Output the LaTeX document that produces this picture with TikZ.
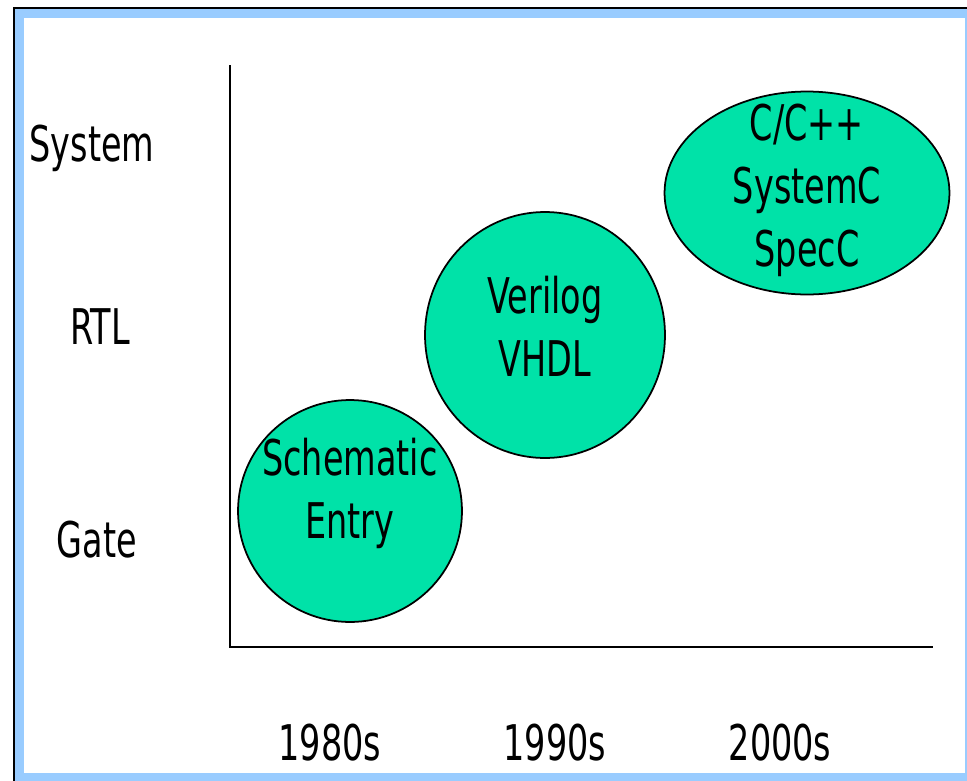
\documentclass[tikz,border=0pt]{standalone}
\usepackage{fontspec}
\setmainfont{DejaVu Sans}[FakeStretch=0.68]
\usetikzlibrary{shapes.geometric}
\definecolor{bubble}{RGB}{0,226,168}
\definecolor{frameblue}{RGB}{153,204,255}
\begin{document}
\begin{tikzpicture}[x=0.02cm, y=-0.02cm, font=\fontsize{28}{36}\selectfont]
        \useasboundingbox (0,0) rectangle (967,781);

        % Frame
        \fill[frameblue] (14,8) rectangle (967,781);
        \fill[white] (24,18) rectangle (965,773);
        \draw[line width=1.2pt] (14,781) -- (14,8) -- (967,8);

        % Axes
        \coordinate (top) at (230,65);
        \coordinate (origin) at (230,647);
        \coordinate (right) at (933,647);
        \draw[line width=1pt] (top) -- (origin) -- (right);

        % Levels
        \node (system) at (92,148) {System};
        \node (rtl) at (100,327) {RTL};
        \node (gate) at (97,540) {Gate};

        % Decades
        \node (d1980) at (330,743) {1980s};
        \node (d1990) at (555,743) {1990s};
        \node (d2000) at (780,743) {2000s};

        % Languages
        \node[draw, ellipse, line width=1pt, fill=bubble, inner sep=-20pt, align=center, minimum width=4.48cm, minimum height=4.44cm] (schematic) at (350,511) {Schematic\\Entry\rule[-0.92cm]{0pt}{0pt}};
        \node[draw, ellipse, line width=1pt, fill=bubble, inner sep=-20pt, align=center, minimum width=4.8cm, minimum height=4.92cm] (verilog) at (545,335) {Verilog\\VHDL\rule[-0.34cm]{0pt}{0pt}};
        \node[draw, ellipse, line width=1pt, fill=bubble, inner sep=-20pt, align=center, minimum width=5.7cm, minimum height=4.06cm] (cpp) at (807,193) {C/C++\\SystemC\\SpecC\rule[-0.32cm]{0pt}{0pt}};
    \end{tikzpicture}
\end{document}
